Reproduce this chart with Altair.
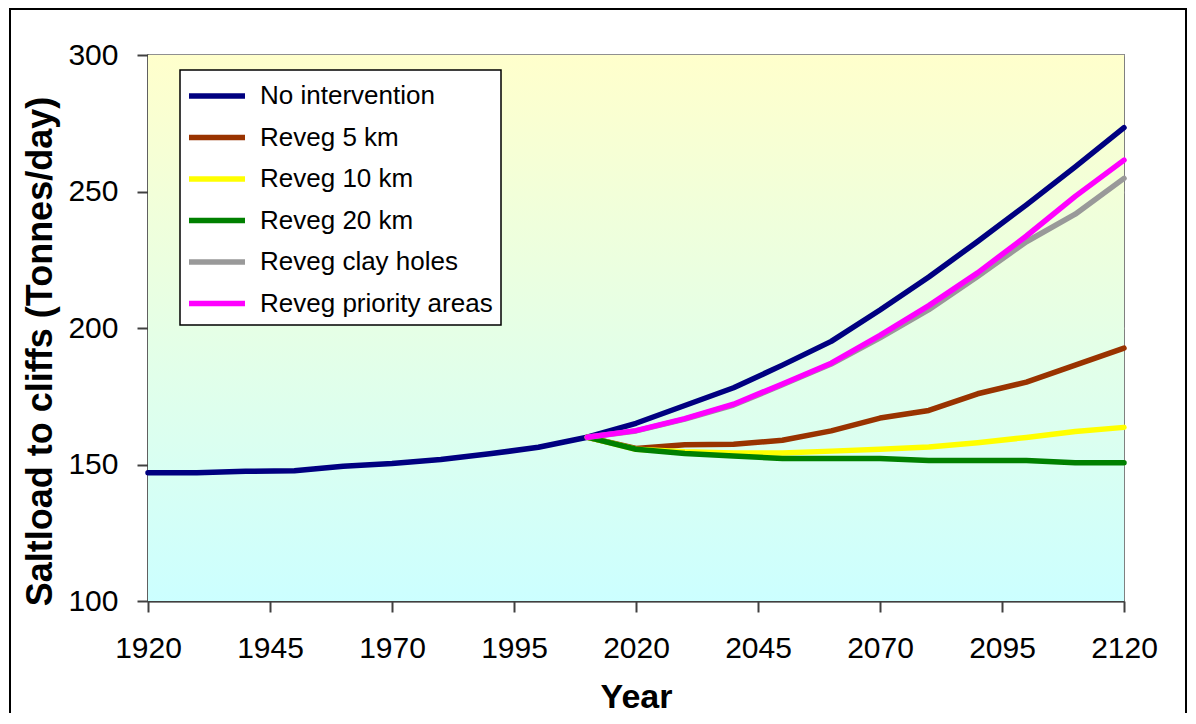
import altair as alt
import pandas as pd

# ---- data ----
series_names = ["No intervention", "Reveg 5 km", "Reveg 10 km", "Reveg 20 km",
                "Reveg clay holes", "Reveg priority areas"]
series_colors = ["#000080", "#993300", "#FFFF00", "#008000", "#999999", "#FF00FF"]

years_all = list(range(1920, 2121, 10))
years_proj = list(range(2010, 2121, 10))

no_intervention = [147.0, 147.0, 147.5, 147.7, 149.4, 150.4, 151.8, 153.9, 156.3, 160.0,
                   165.1, 171.6, 178.1, 186.4, 195.1, 206.6, 218.7, 231.7, 245.1, 259.0, 273.4]
reveg_5km = [160.0, 155.9, 157.2, 157.4, 158.9, 162.3, 167.0, 169.8, 175.9, 180.2, 186.4, 192.6]
reveg_10km = [160.0, 155.6, 154.7, 154.2, 154.2, 154.9, 155.6, 156.4, 158.0, 159.9, 162.1, 163.6]
reveg_20km = [160.0, 155.6, 154.0, 153.1, 152.2, 152.2, 152.2, 151.5, 151.5, 151.5, 150.6, 150.6]
reveg_clay = [160.0, 162.3, 166.6, 171.8, 179.2, 186.8, 196.4, 206.7, 218.9, 231.6, 241.7, 254.8]
reveg_priority = [160.0, 162.4, 166.8, 172.1, 179.5, 187.1, 197.3, 208.2, 220.2, 233.7, 248.2, 261.5]

x_ticks = [1920, 1945, 1970, 1995, 2020, 2045, 2070, 2095, 2120]
y_ticks = [100, 150, 200, 250, 300]

rows = []
for yr, v in zip(years_all, no_intervention):
    rows.append({"Year": yr, "Value": v, "Series": series_names[0]})
for name, vals in zip(series_names[1:], [reveg_5km, reveg_10km, reveg_20km, reveg_clay, reveg_priority]):
    for yr, v in zip(years_proj, vals):
        rows.append({"Year": yr, "Value": v, "Series": name})
df = pd.DataFrame(rows)

FONT = "Liberation Sans"
W, H = 976, 546

x_scale = alt.Scale(domain=[1920, 2120], nice=False, zero=False)
y_scale = alt.Scale(domain=[100, 300], nice=False, zero=False)

bg_df = pd.DataFrame({"x": [1920], "x2": [2120], "y": [100], "y2": [300]})
gradient = alt.Gradient(
    gradient="linear",
    stops=[alt.GradientStop(color="#FFFFCC", offset=0),
           alt.GradientStop(color="#CCFFFF", offset=1)],
    x1=0, x2=0, y1=0, y2=1,
)
background = alt.Chart(bg_df).mark_rect(fill=gradient).encode(
    x=alt.X("x:Q", scale=x_scale),
    x2="x2:Q",
    y=alt.Y("y:Q", scale=y_scale),
    y2="y2:Q",
)

# outer frame of the whole chart (decoration)
border = alt.Chart(bg_df).mark_rect(filled=False, stroke="black", strokeWidth=2).encode(
    x=alt.value(-138), x2=alt.value(1038), y=alt.value(-46), y2=alt.value(720)
)

lines = alt.Chart(df).mark_line(strokeWidth=5.5, strokeCap="round", strokeJoin="round").encode(
    x=alt.X("Year:Q", scale=x_scale,
            axis=alt.Axis(values=x_ticks, format="d", title="Year", grid=False,
                          labelFontSize=30, labelFont=FONT, labelColor="black",
                          labelPadding=21, labelFlush=False, labelOverlap=False,
                          tickSize=11, tickWidth=2, tickColor="#404040",
                          domainColor="#404040", domainWidth=2,
                          titleFont=FONT, titleFontSize=34, titleFontWeight="bold",
                          titleColor="black", titleBaseline="alphabetic", titleY=106)),
    y=alt.Y("Value:Q", scale=y_scale,
            axis=alt.Axis(values=y_ticks, title="Saltload to cliffs (Tonnes/day)", grid=True,
                          gridColor="#A0A0A0", gridWidth=2,
                          labelFontSize=30, labelFont=FONT, labelColor="black",
                          labelPadding=19, labelFlush=False,
                          tickSize=11, tickWidth=2, tickColor="#404040",
                          domainColor="#404040", domainWidth=2,
                          titleFont=FONT, titleFontSize=36, titleFontWeight="bold",
                          titleColor="black", titleAngle=270, titleAlign="center",
                          titleBaseline="middle", titleX=-108, titleY=296)),
    color=alt.Color("Series:N",
                    scale=alt.Scale(domain=series_names, range=series_colors),
                    sort=series_names,
                    legend=alt.Legend(title=None, orient="none", legendX=32, legendY=15,
                                      symbolType="M-1.8667,0L1.8667,0", symbolSize=900,
                                      symbolStrokeWidth=5.5, symbolOffset=11,
                                      labelOffset=25, labelFont=FONT, labelFontSize=26,
                                      labelColor="black", labelLimit=400,
                                      padding=8, rowPadding=10.5,
                                      fillColor="white", strokeColor="black")),
    order=alt.Order("Year:Q"),
)

chart = alt.layer(background, lines, border).properties(
    width=W, height=H,
    autosize=alt.AutoSizeParams(type="none"),
    padding={"left": 140, "top": 47, "right": 64, "bottom": 112},
).configure_view(
    stroke="#808080", strokeWidth=2
).configure_legend(
    strokeWidth=1.5
)

chart.save("out.html", embed_options={"renderer": "svg", "actions": False})
